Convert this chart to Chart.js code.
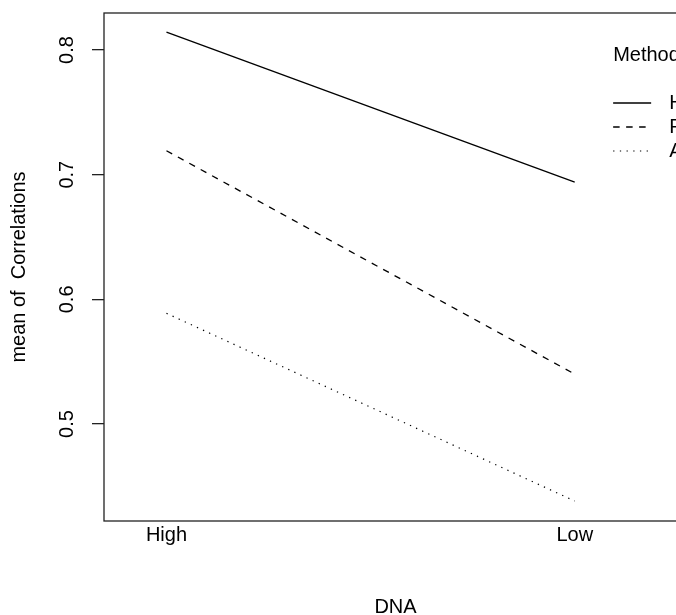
<!DOCTYPE html>
<html>
<head>
<meta charset="utf-8">
<script src="https://cdn.jsdelivr.net/npm/chart.js@4/dist/chart.umd.min.js"></script>
<style>
  html, body { margin: 0; padding: 0; overflow: hidden; background: #fff; }
  #wrap { width: 676px; height: 615px; overflow: hidden; }
</style>
</head>
<body>
<div id="wrap"><canvas id="interactionPlot" width="700" height="619"></canvas></div>
<script>
// Data
const categories = ['High', 'Low'];
const methodNames = ['H', 'F', 'A'];
const hValues = [0.8144, 0.6941];
const fValues = [0.7192, 0.5400];
const aValues = [0.5888, 0.4382];
const yTicks = [0.5, 0.6, 0.7, 0.8];

document.addEventListener('DOMContentLoaded', () => {
    const FONT = '"Liberation Sans", Arial, Helvetica, sans-serif';
    const FONT_SIZE = 20;
    Chart.defaults.font.family = FONT;
    Chart.defaults.font.size = FONT_SIZE;
    Chart.defaults.color = '#000';

    const toPoints = values => categories.map((c, i) => ({ x: i + 1, y: values[i] }));

    // box round the plot, rotated y labels, R-style legend
    const rDecorations = {
        id: 'rDecorations',
        afterDraw(chart) {
            const { ctx, chartArea, scales } = chart;
            ctx.save();

            ctx.strokeStyle = '#222';
            ctx.lineWidth = 1.3;
            ctx.strokeRect(chartArea.left, chartArea.top, chartArea.right - chartArea.left, chartArea.bottom - chartArea.top);

            ctx.fillStyle = '#000';
            ctx.font = FONT_SIZE + 'px ' + FONT;
            ctx.textAlign = 'center';
            ctx.textBaseline = 'middle';
            yTicks.forEach(v => {
                const py = scales.y.getPixelForValue(v);
                ctx.save();
                ctx.translate(67, py);
                ctx.rotate(-Math.PI / 2);
                ctx.fillText(v.toFixed(1), 0, 0);
                ctx.restore();
            });

            // legend
            const lx = scales.x.getPixelForValue(2.05) + 18;
            ctx.textAlign = 'left';
            ctx.fillText('Method', lx, 55);
            chart.data.datasets.forEach((ds, i) => {
                const ly = 103 + i * 24;
                ctx.strokeStyle = ds.borderColor;
                ctx.lineWidth = ds.borderWidth;
                ctx.setLineDash(ds.borderDash || []);
                ctx.beginPath();
                ctx.moveTo(lx, ly);
                ctx.lineTo(lx + 38, ly);
                ctx.stroke();
                ctx.setLineDash([]);
                ctx.fillText(ds.label, lx + 56, ly);
            });
            ctx.restore();
        }
    };

    const ctx = document.getElementById('interactionPlot').getContext('2d');
    new Chart(ctx, {
        type: 'line',
        data: {
            datasets: [
                { label: methodNames[0], data: toPoints(hValues), borderColor: '#000', borderWidth: 1.3, borderDash: [] },
                { label: methodNames[1], data: toPoints(fValues), borderColor: '#000', borderWidth: 1.3, borderDash: [6.5, 6.5] },
                { label: methodNames[2], data: toPoints(aValues), borderColor: '#000', borderWidth: 1.2, borderDash: [1.3, 5.4] },
            ],
        },
        options: {
            responsive: false,
            animation: false,
            devicePixelRatio: 1,
            layout: { padding: { top: 13, right: 13, left: 0, bottom: 0 } },
            elements: { point: { radius: 0, hoverRadius: 0 }, line: { tension: 0 } },
            plugins: { legend: { display: false }, tooltip: { enabled: false } },
            scales: {
                x: {
                    type: 'linear',
                    min: 0.847,
                    max: 2.275,
                    afterBuildTicks: scale => { scale.ticks = categories.map((c, i) => ({ value: i + 1 })); },
                    afterFit: scale => { scale.height = 98; },
                    ticks: {
                        autoSkip: false,
                        maxRotation: 0,
                        padding: 2,
                        callback: v => categories[v - 1],
                    },
                    grid: { display: false, drawTicks: false },
                    border: { display: false },
                    title: { display: true, text: 'DNA', padding: { top: 0, bottom: 0 } },
                },
                y: {
                    min: 0.4222,
                    max: 0.8297,
                    afterBuildTicks: scale => { scale.ticks = yTicks.map(v => ({ value: v })); },
                    afterFit: scale => { scale.width = 104; },
                    ticks: { display: false },
                    grid: { drawOnChartArea: false, drawTicks: true, tickLength: 12, color: '#222', lineWidth: 1.3 },
                    border: { display: false },
                    title: { display: true, text: 'mean of  Correlations', padding: { top: 7, bottom: 0 } },
                },
            },
        },
        plugins: [rDecorations],
    });
});
</script>
</body>
</html>
